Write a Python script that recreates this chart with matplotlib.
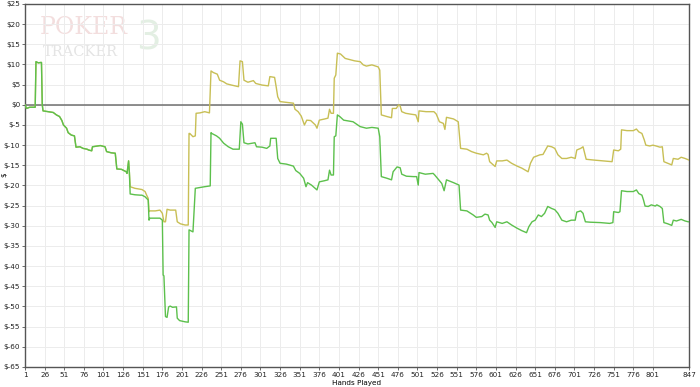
import matplotlib
matplotlib.use("Agg")
import matplotlib.pyplot as plt
import numpy as np

# shared part (both lines identical until hand ~134)
shared_hands = [1, 3, 7, 14, 15, 18, 21, 22, 23, 24, 37, 41, 45, 48, 50, 54, 56, 60, 64, 66,
                71, 75, 80, 82, 86, 87, 97, 103, 105, 111, 116, 118, 124, 130, 131, 133, 134]
shared_vals = [0.0, -0.9, -0.6, -0.6, 10.7, 10.4, 10.5, 10.5, 0.0, -1.5, -1.9, -2.5, -2.9, -3.9,
               -5.0, -5.8, -6.9, -7.5, -7.7, -10.5, -10.4, -10.8, -11.0, -11.2, -11.4, -10.4,
               -10.1, -10.4, -11.6, -11.9, -12.0, -15.9, -16.0, -16.6, -17.0, -13.9, -16.8]

# won (green)
won_hands = [135, 141, 148, 150, 154, 158, 159, 160, 173, 176, 177, 178, 180, 182, 184, 186,
             189, 194, 195, 198, 205, 209, 210, 215, 218, 224, 230, 237, 238, 239, 245, 249,
             254, 260, 266, 274, 276, 278, 280, 285, 294, 296, 303, 309, 313, 314, 321, 323,
             326, 334, 343, 346, 351, 356, 359, 361, 366, 373, 376, 383, 387, 389, 391, 394,
             395, 397, 399, 402, 407, 419, 428, 436, 443, 451, 453, 455, 462, 468, 470, 475,
             479, 481, 487, 496, 500, 502, 503, 511, 521, 523, 532, 535, 538, 547, 554, 556,
             564, 568, 572, 576, 583, 587, 591, 593, 596, 600, 602, 609, 615, 621, 628, 634,
             640, 643, 647, 651, 655, 659, 663, 667, 672, 676, 680, 685, 691, 697, 702, 704,
             709, 712, 713, 715, 721, 734, 746, 750, 751, 757, 759, 761, 768, 776, 780, 783,
             787, 789, 791, 795, 799, 804, 806, 810, 813, 815, 820, 825, 827, 831, 837, 842,
             846, 847]
won_vals = [-22.1, -22.3, -22.4, -22.4, -22.8, -23.6, -28.6, -28.1, -28.1, -28.6, -42.2, -42.4,
            -52.5, -52.7, -50.1, -49.9, -50.2, -50.1, -52.9, -53.5, -53.8, -53.9, -31.0, -31.5,
            -20.7, -20.5, -20.3, -20.1, -6.9, -7.1, -7.7, -8.3, -9.5, -10.4, -11.0, -11.0, -4.2,
            -4.8, -9.4, -9.7, -9.4, -10.4, -10.5, -10.8, -10.2, -8.3, -8.3, -13.3, -14.5, -14.7,
            -15.2, -16.3, -17.0, -18.2, -20.3, -19.3, -19.9, -21.1, -19.1, -18.8, -18.6, -16.2,
            -17.4, -17.4, -7.9, -7.7, -2.5, -2.9, -3.8, -4.2, -5.4, -5.8, -5.6, -5.8, -7.9,
            -17.8, -18.2, -18.6, -16.6, -15.4, -15.6, -17.2, -17.7, -17.8, -17.8, -19.9, -16.8,
            -17.2, -17.0, -17.4, -19.5, -21.3, -18.6, -19.3, -19.9, -26.1, -26.3, -26.8, -27.3,
            -27.9, -27.7, -27.1, -27.3, -28.6, -29.2, -30.4, -29.0, -29.4, -29.0, -29.8, -30.6,
            -31.2, -31.7, -30.2, -29.0, -28.6, -27.3, -27.7, -26.9, -25.2, -25.7, -26.0, -26.9,
            -28.6, -29.0, -28.6, -28.6, -26.6, -26.3, -26.9, -27.7, -29.0, -29.1, -29.2, -29.4,
            -29.2, -26.5, -26.7, -26.5, -21.3, -21.5, -21.5, -21.1, -22.0, -22.4, -23.6, -25.1,
            -25.2, -24.8, -25.1, -24.8, -25.2, -25.7, -29.2, -29.5, -29.9, -28.6, -28.8, -28.4,
            -28.8, -29.0, -29.0]

# all-in adjusted (yellow)
ev_hands = [135, 141, 150, 154, 156, 158, 159, 160, 167, 173, 176, 178, 180, 182, 186, 193,
            195, 199, 205, 209, 210, 211, 215, 218, 219, 224, 230, 236, 238, 241, 246, 249,
            254, 258, 264, 273, 275, 278, 280, 285, 292, 295, 303, 311, 313, 319, 321, 323,
            326, 334, 343, 345, 349, 353, 357, 360, 365, 371, 373, 376, 383, 387, 389, 391,
            394, 395, 397, 399, 403, 409, 421, 428, 432, 436, 443, 451, 453, 455, 462, 468,
            469, 474, 477, 479, 481, 486, 492, 499, 502, 503, 512, 522, 525, 529, 534, 536,
            538, 547, 553, 556, 564, 570, 576, 585, 589, 591, 593, 600, 602, 609, 615, 621,
            628, 634, 642, 645, 649, 653, 657, 661, 667, 672, 676, 680, 685, 691, 697, 702,
            704, 709, 712, 714, 716, 726, 738, 749, 751, 757, 760, 761, 768, 776, 780, 783,
            787, 790, 792, 797, 801, 805, 810, 813, 815, 820, 825, 827, 833, 837, 842, 847]
ev_vals = [-20.3, -20.7, -21.0, -21.5, -22.4, -23.2, -26.5, -26.3, -26.3, -26.1, -26.9, -29.0,
           -29.0, -25.9, -26.1, -26.1, -29.0, -29.5, -29.8, -29.8, -7.1, -7.1, -7.9, -7.7, -2.1,
           -2.0, -1.7, -2.0, 8.4, 8.0, 7.6, 6.1, 5.7, 5.2, 4.9, 4.5, 10.9, 10.7, 6.1, 5.6, 6.0,
           5.3, 4.9, 4.7, 7.0, 6.8, 4.5, 2.0, 0.8, 0.6, 0.4, -1.1, -1.7, -2.8, -5.0, -3.8, -3.9,
           -5.0, -5.8, -3.8, -3.5, -3.3, -1.1, -2.1, -2.1, 6.6, 7.4, 12.8, 12.6, 11.5, 10.9,
           10.7, 9.9, 9.6, 9.9, 9.4, 8.6, -2.5, -2.9, -3.2, -0.9, -0.9, 0.0, -0.3, -1.7, -2.1,
           -2.3, -2.5, -4.2, -1.5, -1.7, -1.7, -2.3, -4.2, -4.6, -6.1, -3.1, -3.5, -4.2, -10.8,
           -11.0, -11.6, -12.0, -12.4, -12.0, -12.3, -14.1, -15.3, -13.9, -13.9, -13.7, -14.5,
           -15.2, -15.7, -16.6, -14.5, -13.0, -12.7, -12.4, -12.3, -10.2, -10.4, -10.8, -12.4,
           -13.3, -13.3, -13.0, -13.3, -11.2, -10.8, -10.4, -12.0, -13.5, -13.7, -13.9, -14.1,
           -11.2, -11.4, -11.0, -6.2, -6.4, -6.4, -6.0, -6.7, -7.1, -8.7, -10.0, -10.2, -10.0,
           -10.2, -10.5, -10.4, -14.1, -14.5, -14.9, -13.3, -13.5, -13.0, -13.3, -13.7]

x_ticks = list(range(1, 802, 25)) + [847]
y_ticks = list(range(-65, 26, 5))

green = '#5cc04c'
yellow = '#c8bf55'

fig = plt.figure(figsize=(7, 3.87), dpi=100)
ax = fig.add_axes([0.0357, 0.0517, 0.9486, 0.938])

ax.set_xlim(1, 847)
ax.set_ylim(-65, 25)
ax.set_xticks(x_ticks)
ax.set_yticks(y_ticks)
ax.set_xticklabels([str(t) for t in x_ticks], fontsize=5.2, color='#222222')
ax.set_yticklabels(['$' + str(t) for t in y_ticks], fontsize=5.2, color='#222222')
ax.tick_params(length=2.5, width=0.6, color='#555555', pad=1)
ax.grid(True, color='#ececec', linewidth=0.7)
ax.set_axisbelow(True)
for s in ax.spines.values():
    s.set_color('#555555')
    s.set_linewidth(1.0)
ax.axhline(0, color='#707070', linewidth=1.1, zorder=1)

# watermark
ax.text(0.022, 0.935, 'POKER', transform=ax.transAxes, fontsize=17, family='DejaVu Serif',
        color='#f3dede', va='center', ha='left', zorder=0)
ax.text(0.027, 0.868, 'TRACKER', transform=ax.transAxes, fontsize=10.5, family='DejaVu Serif',
        color='#e4e4e4', va='center', ha='left', zorder=0)
ax.text(0.168, 0.905, '3', transform=ax.transAxes, fontsize=28, color='#e3efe3',
        va='center', ha='left', zorder=0)

ev_x = shared_hands + ev_hands
ev_y = shared_vals + ev_vals
won_x = shared_hands + won_hands
won_y = shared_vals + won_vals
ax.plot(ev_x, ev_y, color=yellow, linewidth=1.0, zorder=3)
ax.plot(won_x, won_y, color=green, linewidth=1.0, zorder=4)

ax.set_xlabel('Hands Played', fontsize=5.2)
ax.xaxis.set_label_coords(0.5, -0.036)
ax.set_ylabel('$', fontsize=5.2)
ax.yaxis.set_label_coords(-0.026, 0.53)

fig.savefig('out.png', dpi=100)
